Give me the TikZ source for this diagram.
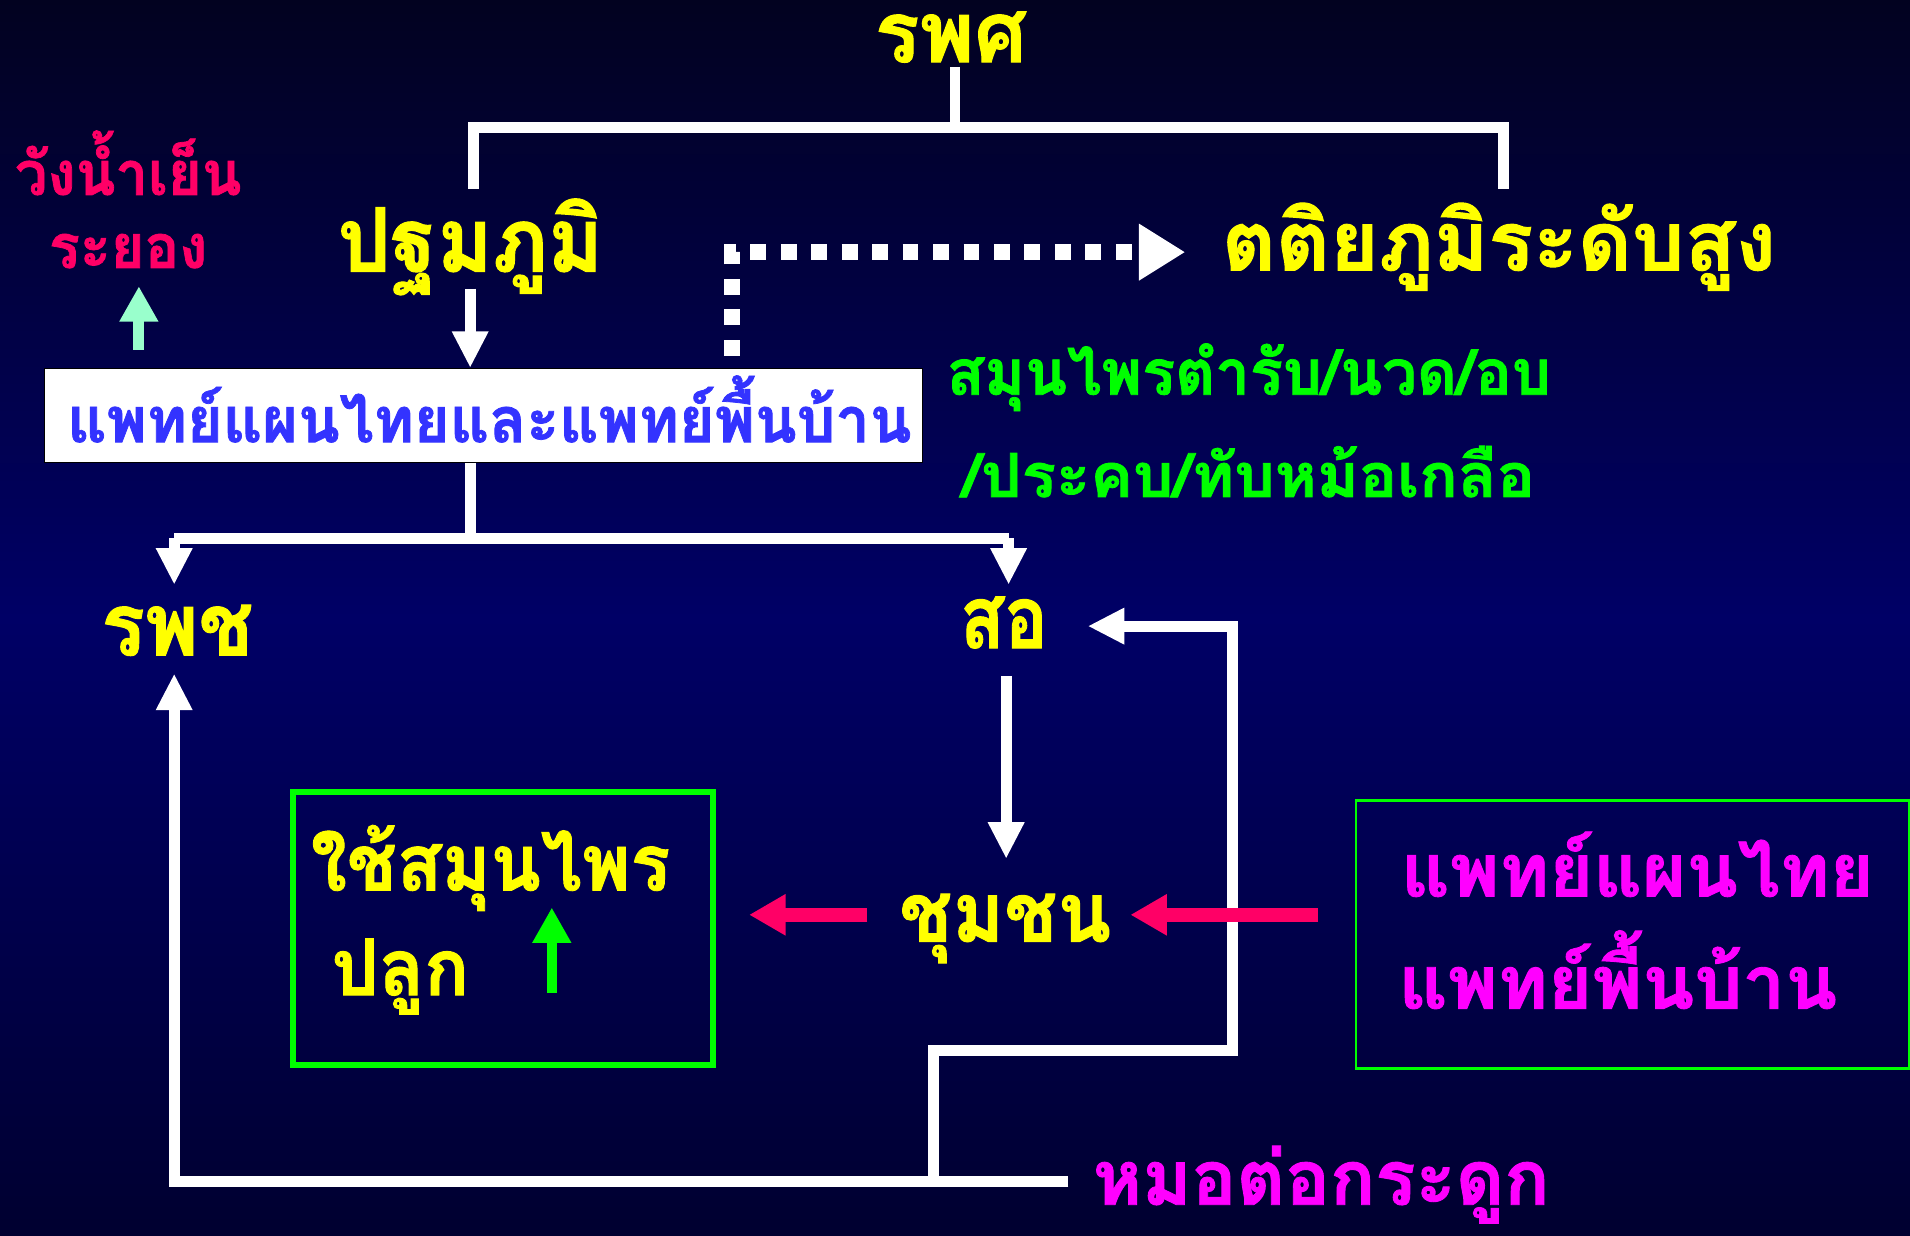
\documentclass[tikz,border=0pt]{standalone}
\usepackage{fontspec}
\usepackage{graphicx}
\newfontfamily\thai[Script=Thai,BoldFeatures={FakeBold=1.2}]{Loma}
\usetikzlibrary{arrows.meta}
\definecolor{yel}{HTML}{FFFF00}
\definecolor{pinkr}{HTML}{FF0066}
\definecolor{mag}{HTML}{FF00FF}
\definecolor{grn}{HTML}{00FF00}
\definecolor{blu}{HTML}{3333FF}
\definecolor{mint}{HTML}{99FFCC}
\definecolor{bgtop}{HTML}{020220}
\definecolor{bgmid}{HTML}{000066}
\definecolor{bgbot}{HTML}{000030}
\newsavebox\tlbox
\newsavebox\tlref
\newcommand\thaib{\thai\bfseries\fontsize{40}{48}\selectfont}
\newcommand\tl[3]{%
  \sbox\tlbox{\thaib #3}\sbox\tlref{\thaib น}%
  \pgfmathsetmacro\tlsx{#1/\the\wd\tlbox}%
  \pgfmathsetmacro\tlsy{#2/\the\ht\tlref}%
  \scalebox{\tlsx}[\tlsy]{\usebox\tlbox}}
\begin{document}
\begin{tikzpicture}[x=1pt,y=-1pt,
  wl/.style={draw=white,line width=9pt},
  wa/.style={wl,-{Triangle[width=28pt,length=30pt]}},
  pa/.style={draw=pinkr,line width=11pt,-{Triangle[width=32pt,length=30pt]}},
  tx/.style={inner sep=0pt,anchor=base west}]
\useasboundingbox (0,0) rectangle (1568,1014);
\shade[top color=bgtop,bottom color=bgbot,middle color=bgmid] (0,0) rectangle (1568,1014);

% texts
\node[tx,text=yel] (rpsh) at (718,51) {\tl{125}{39}{รพศ}};
\node[tx,text=yel] (pathom) at (277,223) {\tl{218}{41}{ปฐมภูมิ}};
\node[tx,text=yel] (tert) at (1003,222) {\tl{455}{38}{ตติยภูมิระดับสูง}};
\node[tx,text=pinkr] (wang) at (12,160) {\tl{186}{28}{วังน้ำเย็น}};
\node[tx,text=pinkr] (rayong) at (40,220) {\tl{130}{28}{ระยอง}};
\node[draw=black,line width=1pt,fill=white,minimum width=721pt,minimum height=77pt,anchor=north west,inner sep=0pt] (tbox) at (36,302) {};
\node[tx,text=blu] (tboxt) at (55,363) {\tl{693}{29}{แพทย์แผนไทยและแพทย์พื้นบ้าน}};
\node[tx,text=grn] (herb1) at (777,324) {\tl{496}{29}{สมุนไพรตำรับ/นวด/อบ}};
\node[tx,text=grn] (herb2) at (790,408) {\tl{470}{28}{/ประคบ/ทับหม้อเกลือ}};
\node[tx,text=yel] (rpch) at (83,538) {\tl{125}{40}{รพช}};
\node[tx,text=yel] (so) at (788,532) {\tl{72}{40}{สอ}};
\node[tx,text=yel] (chum) at (738,773) {\tl{174}{38}{ชุมชน}};
\node[draw=grn,line width=5pt,minimum width=345pt,minimum height=224pt,anchor=north west,inner sep=0pt] (gbox) at (238,648) {};
\node[tx,text=yel] (use) at (255,731) {\tl{295}{36}{ใช้สมุนไพร}};
\node[tx,text=yel] (plant) at (272,817) {\tl{113}{36}{ปลูก}};
\node[draw=grn,line width=2pt,minimum width=454pt,minimum height=220pt,anchor=north west,inner sep=0pt] (rbox) at (1112,656) {};
\node[tx,text=mag] (tt1) at (1150,736) {\tl{388}{34}{แพทย์แผนไทย}};
\node[tx,text=mag] (tt2) at (1148,828) {\tl{360}{34}{แพทย์พื้นบ้าน}};
\node[tx,text=mag] (bone) at (897,989) {\tl{375}{35}{หมอต่อกระดูก}};

% coordinates
\coordinate (stem) at (784,55);
\coordinate (bar) at (784,105);
\coordinate (bl) at (389,155);
\coordinate (br) at (1234,155);
\coordinate (pa0) at (386,237);
\coordinate (d0) at (601,292);
\coordinate (d1) at (973,207);
\coordinate (b0) at (386,442);
\coordinate (fl) at (143,442);
\coordinate (fr) at (828,442);
\coordinate (rpin) at (143,480);
\coordinate (soin) at (828,480);
\coordinate (so0) at (826,555);
\coordinate (so1) at (826,705);
\coordinate (j1) at (766,970);
\coordinate (j3) at (1012,862);
\coordinate (soR) at (893,514);
\coordinate (bone0) at (877,970);
\coordinate (rpup) at (143,553);
\coordinate (m0) at (453,815);
\coordinate (m1) at (453,745);
\coordinate (mt0) at (114,287);
\coordinate (mt1) at (114,235);
\coordinate (c0) at (712,751);
\coordinate (c1) at (615,751);
\coordinate (r0) at (1082,751);
\coordinate (r1) at (928,751);

% connectors
\draw[wl] (stem) -- (bar);
\draw[wl] (bl) |- (bar) -| (br);
\draw[wa] (pa0) -- (pa0 |- tbox.north);
\draw[white,line width=13pt,dash pattern=on 13pt off 12pt,-{Triangle[width=44pt,length=38pt]}] (d0) |- (d1);
\draw[wl] (b0 |- tbox.south) -- (b0);
\draw[wl] (fl) -- (fr);
\draw[wa] (fl) -- (rpin);
\draw[wa] (fr) -- (soin);
\draw[wa] (so0) -- (so1);
\draw[wa] (bone0) -| (rpup);
\draw[wa] (j1) |- (j3) |- (soR);
\draw[pa] (c0) -- (c1);
\draw[pa] (r0) -- (r1);
\draw[draw=grn,line width=8pt,-{Triangle[width=30pt,length=29pt]}] (m0) -- (m1);
\draw[draw=mint,line width=9pt,-{Triangle[width=30pt,length=29pt]}] (mt0) -- (mt1);
\end{tikzpicture}
\end{document}
